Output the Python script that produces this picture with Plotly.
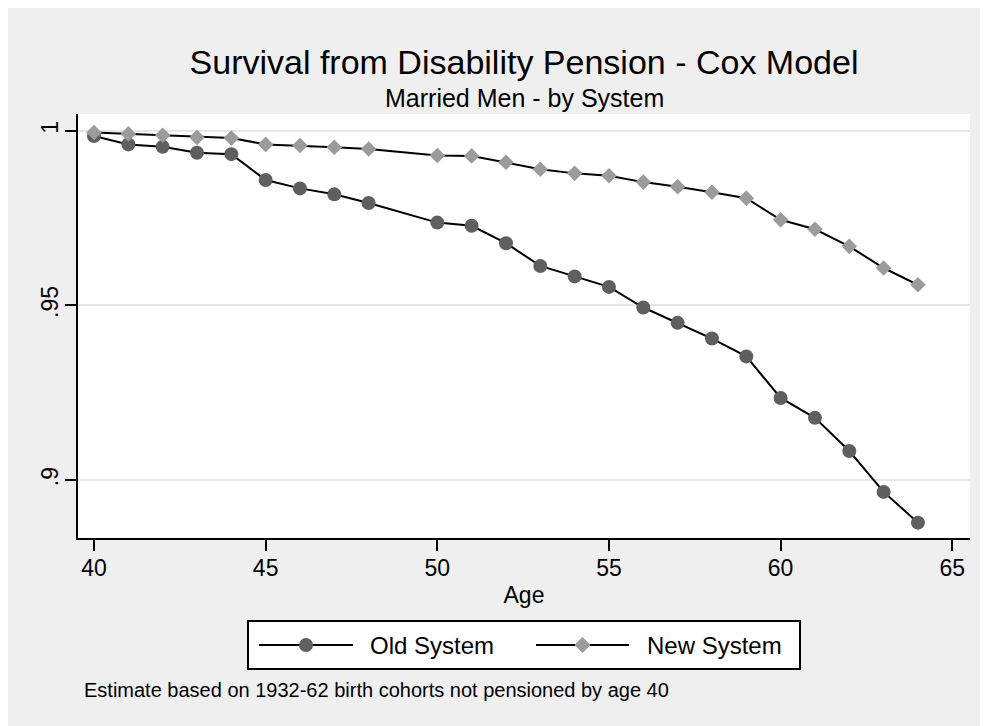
import plotly.graph_objects as go

age = [40, 41, 42, 43, 44, 45, 46, 47, 48, 50, 51, 52, 53, 54, 55, 56, 57, 58, 59, 60, 61, 62, 63, 64]
old_system = [0.9985, 0.9961, 0.9954, 0.9937, 0.9933, 0.9859, 0.9835, 0.9818, 0.9793, 0.9737, 0.9728,
              0.9678, 0.9613, 0.9583, 0.9553, 0.9494, 0.9450, 0.9405, 0.9354, 0.9235, 0.9178, 0.9083,
              0.8966, 0.8878]
new_system = [0.9995, 0.9991, 0.9987, 0.9981, 0.9979, 0.9961, 0.9958, 0.9953, 0.9948, 0.9929, 0.9928,
              0.9910, 0.9890, 0.9878, 0.9871, 0.9853, 0.9840, 0.9824, 0.9807, 0.9745, 0.9718, 0.9669,
              0.9607, 0.9559]
series_names = ["Old System", "New System"]
y_tickvals = [0.9, 0.95, 1.0]
y_ticktext = [".9", ".95", "1"]
x_tickvals = [40, 45, 50, 55, 60, 65]

title_text = "Survival from Disability Pension - Cox Model"
subtitle_text = "Married Men - by System"
note_text = "Estimate based on 1932-62 birth cohorts not pensioned by age 40"

FONT = "Liberation Sans, Arial, sans-serif"
BG = "#efefef"
OLD_COLOR = "#5f5f5f"
NEW_COLOR = "#9b9b9b"

W, H = 980, 718
L, R, T, B = 70, 18, 106, 188
PW, PH = W - L - R, H - T - B


def px(xp):
    return (xp - L) / PW


def py(yp):
    return (H - B - yp) / PH


fig = go.Figure()
fig.add_trace(go.Scatter(x=age, y=old_system, mode="lines+markers", name=series_names[0],
                         line=dict(color="black", width=2),
                         marker=dict(symbol="circle", size=14, color=OLD_COLOR),
                         showlegend=False))
fig.add_trace(go.Scatter(x=age, y=new_system, mode="lines+markers", name=series_names[1],
                         line=dict(color="black", width=2),
                         marker=dict(symbol="diamond", size=12, color=NEW_COLOR),
                         showlegend=False))

shapes = []
# legend box
shapes.append(dict(type="rect", xref="paper", yref="paper", x0=px(240), x1=px(792), y0=py(661), y1=py(613),
                   fillcolor="white", line=dict(color="black", width=2)))
leg_y = py(637)
leg_items = [
    dict(x0=251, x1=345, xm=298, xt=360, name=series_names[0], kind="circle", color=OLD_COLOR),
    dict(x0=528, x1=621, xm=574.5, xt=637, name=series_names[1], kind="diamond", color=NEW_COLOR),
]
annotations = []
for it in leg_items:
    shapes.append(dict(type="line", xref="paper", yref="paper", x0=px(it["x0"]), x1=px(it["x1"]),
                       y0=leg_y, y1=leg_y, line=dict(color="black", width=2)))
    if it["kind"] == "circle":
        shapes.append(dict(type="circle", xref="paper", yref="paper", xsizemode="pixel", ysizemode="pixel",
                           xanchor=px(it["xm"]), yanchor=leg_y, x0=-7, x1=7, y0=-7, y1=7,
                           fillcolor=it["color"], line=dict(width=0)))
    else:
        shapes.append(dict(type="path", xref="paper", yref="paper", xsizemode="pixel", ysizemode="pixel",
                           xanchor=px(it["xm"]), yanchor=leg_y,
                           path="M -8 0 L 0 8 L 8 0 L 0 -8 Z",
                           fillcolor=it["color"], line=dict(width=0)))
    annotations.append(dict(text=it["name"], xref="paper", yref="paper", x=px(it["xt"]), y=leg_y,
                            xanchor="left", yanchor="middle", showarrow=False,
                            font=dict(family=FONT, size=24, color="black")))

annotations.append(dict(text=subtitle_text, xref="paper", yref="paper", x=0.5, y=py(90),
                        xanchor="center", yanchor="middle", showarrow=False,
                        font=dict(family=FONT, size=25, color="black")))
annotations.append(dict(text=note_text, xref="paper", yref="paper", x=px(74), y=py(682),
                        xanchor="left", yanchor="middle", showarrow=False,
                        font=dict(family=FONT, size=20, color="black")))

fig.update_layout(
    width=W, height=H,
    margin=dict(l=L, r=R, t=T, b=B, pad=0),
    paper_bgcolor=BG, plot_bgcolor="white",
    font=dict(family=FONT, color="black"),
    title=dict(text=title_text, x=0.5, xref="paper", y=1 - 54 / H, yref="container",
               xanchor="center", yanchor="middle", font=dict(family=FONT, size=34, color="black")),
    xaxis=dict(range=[39.534, 65.516], tickvals=x_tickvals, showgrid=False, zeroline=False,
               showline=True, linecolor="black", linewidth=2, ticks="outside", ticklen=11,
               tickwidth=2, tickcolor="black", tickfont=dict(size=23), ticklabelstandoff=-3,
               title=dict(text="Age", font=dict(size=23), standoff=7)),
    yaxis=dict(range=[0.8834, 1.0048], tickvals=y_tickvals, ticktext=y_ticktext, tickangle=-90,
               showgrid=True, gridcolor="#e6e6e6", gridwidth=2, zeroline=False,
               showline=True, linecolor="black", linewidth=2, ticks="outside", ticklen=11,
               tickwidth=2, tickcolor="black", tickfont=dict(size=23), ticklabelstandoff=-2),
    shapes=shapes, annotations=annotations,
)

fig.write_html("out.html", config={"displayModeBar": False})
